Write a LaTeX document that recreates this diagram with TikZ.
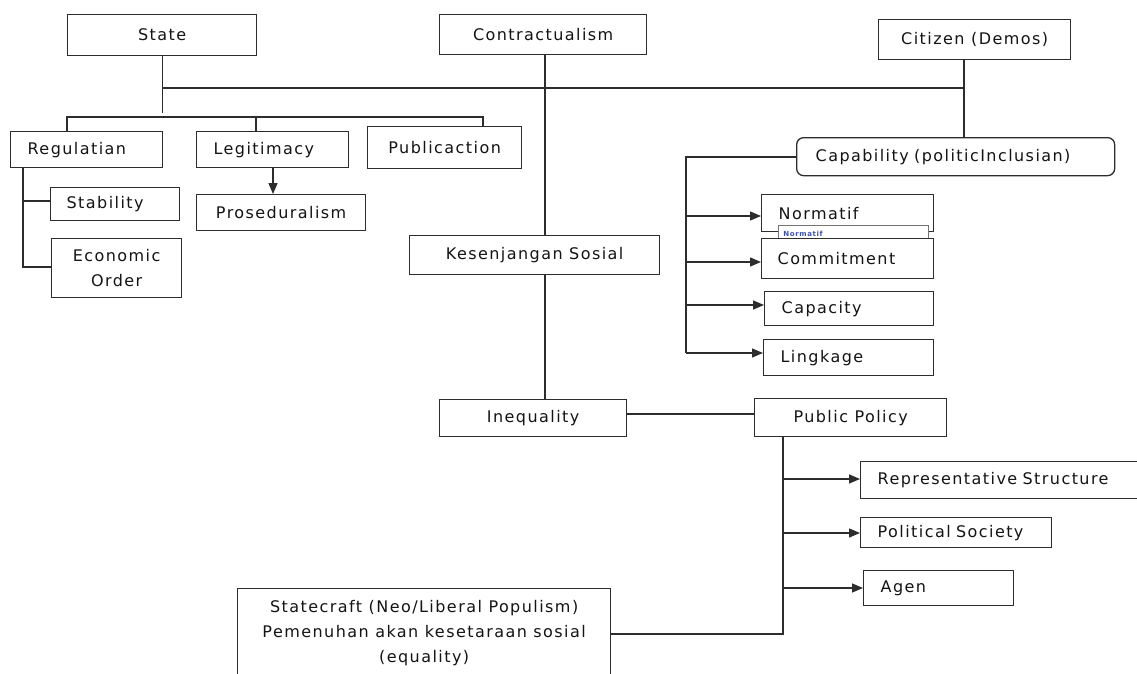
\documentclass[tikz,border=0pt]{standalone}
\usepackage{fontspec}
\setmainfont{DejaVu Sans}[LetterSpace=9]
\usetikzlibrary{arrows.meta}
\definecolor{lc}{RGB}{45,45,45}
\definecolor{tc}{RGB}{20,20,20}
\definecolor{tinyc}{RGB}{60,80,170}
\newcommand\dfont{\fontsize{16}{20}\selectfont}
\tikzset{
  box/.style={draw=lc, line width=1.3pt, inner sep=0pt, anchor=north west, font=\dfont, text=tc, fill=white},
  lbox/.style={box, align=left},
  con/.style={draw=lc, line width=1.3pt},
  arr/.style={con, -{Triangle[length=11pt,width=9pt]}},
}
\begin{document}
\begin{tikzpicture}[x=1pt,y=-1pt]
\useasboundingbox (0,0) rectangle (1137,674);
\clip (0,0) rectangle (1137,674);
\fill[white] (0,0) rectangle (1137,674);

% top row
\node[box, minimum width=189pt, minimum height=41pt] (State) at (67,14) {State};
\node[box, minimum width=207pt, minimum height=40pt] (Contr) at (439,14) {Contractualism};
\node[box, minimum width=192pt, minimum height=40pt] (Citizen) at (878,19) {Citizen (Demos)};

% state branch
\node[lbox, minimum width=152pt, minimum height=36pt, text width=118pt] (Reg) at (10,131) {Regulatian};
\node[lbox, minimum width=152pt, minimum height=36pt, text width=118pt] (Legit) at (196,131) {Legitimacy};
\node[box, minimum width=154pt, minimum height=42pt] (Pubact) at (367,126) {Publicaction};
\node[lbox, minimum width=129pt, minimum height=33pt, text width=97pt] (Stab) at (50,187) {Stability};
\node[box, minimum width=130pt, minimum height=59pt, align=center, font=\fontsize{16}{25}\selectfont] (Econ) at (51,238) {Economic\\Order};
\node[box, minimum width=169pt, minimum height=36pt] (Prosed) at (196,194) {Proseduralism};

% middle
\node[box, minimum width=250pt, minimum height=39pt] (Kesen) at (409,235) {Kesenjangan Sosial};
\node[box, minimum width=187pt, minimum height=37pt] (Ineq) at (439,399) {Inequality};
\node[box, minimum width=192pt, minimum height=38pt] (PP) at (754,398) {Public Policy};

% capability branch
\node[lbox, minimum width=318pt, minimum height=38pt, text width=280pt, rounded corners=7pt] (Capab) at (796,137) {Capability (politicInclusian)};
\node[lbox, minimum width=172pt, minimum height=37pt, text width=138pt] (Norm) at (761,194) {Normatif};
\node[box, draw=black!55, line width=0.9pt, minimum width=150pt, minimum height=16pt, text width=140pt, align=left, font=\fontsize{7}{8}\selectfont\bfseries, text=tinyc] (NormSmall) at (778,225) {\raisebox{-3pt}{Normatif}};
\node[lbox, minimum width=172pt, minimum height=40pt, text width=140pt] (Commit) at (761,238) {Commitment};
\node[lbox, minimum width=169pt, minimum height=34pt, text width=135pt] (Capac) at (764,291) {Capacity};
\node[lbox, minimum width=170pt, minimum height=36pt, text width=136pt] (Link) at (763,339) {Lingkage};

% public policy branch
\node[lbox, minimum width=300pt, minimum height=37pt, text width=266pt] (Rep) at (860,461) {Representative Structure};
\node[lbox, minimum width=191pt, minimum height=30pt, text width=157pt] (PolSoc) at (860,517) {Political Society};
\node[lbox, minimum width=150pt, minimum height=35pt, text width=116pt] (Agen) at (863,570) {Agen};

% statecraft
\node[box, minimum width=373pt, align=center, inner ysep=12pt, text depth=80pt, font=\fontsize{16}{25}\selectfont] (Statecraft) at (237,588) {Statecraft (Neo/Liberal Populism)\\Pemenuhan akan kesetaraan sosial\\(equality)};

% coordinates
\coordinate (hA) at (0,88);
\coordinate (hB) at (0,117);

% connectors: top bus
\draw[con] (State.south) -- (State.south |- 0,113);
\draw[con] (State.south |- hA) -- (964,88) -- (964,59);
\draw[con] (964,59) -- (Capab.north -| 964,0);
\draw[con] (Contr.south -| 545,0) -- (Kesen.north -| 545,0);
\draw[con] (Kesen.south -| 545,0) -- (Ineq.north -| 545,0);

% second bus
\draw[con] (Reg.north -| 67,0) -- (67,117) -- (483,117) -- (Pubact.north -| 483,0);
\draw[con] (256,117) -- (Legit.north -| 256,0);
\draw[arr] (Legit.south -| 273,0) -- (Prosed.north -| 273,0);

% regulatian subtree
\draw[con] (Reg.south -| 23,0) -- (23,267) -- (Econ.west |- 0,267);
\draw[con] (23,201) -- (Stab.west |- 0,201);

% capability subtree
\draw[con] (Capab.west |- 0,157) -- (686,157) -- (686,353);
\draw[arr] (686,216) -- (Norm.west |- 0,216);
\draw[arr] (686,262) -- (Commit.west |- 0,262);
\draw[arr] (686,305) -- (Capac.west |- 0,305);
\draw[arr] (686,353) -- (Link.west |- 0,353);

% inequality - public policy
\draw[con] (Ineq.east |- 0,414) -- (PP.west |- 0,414);
\draw[con] (PP.south -| 783,0) -- (783,634) -- (Statecraft.east |- 0,634);
\draw[arr] (783,479) -- (Rep.west |- 0,479);
\draw[arr] (783,533) -- (PolSoc.west |- 0,533);
\draw[arr] (783,588) -- (Agen.west |- 0,588);
\end{tikzpicture}
\end{document}
